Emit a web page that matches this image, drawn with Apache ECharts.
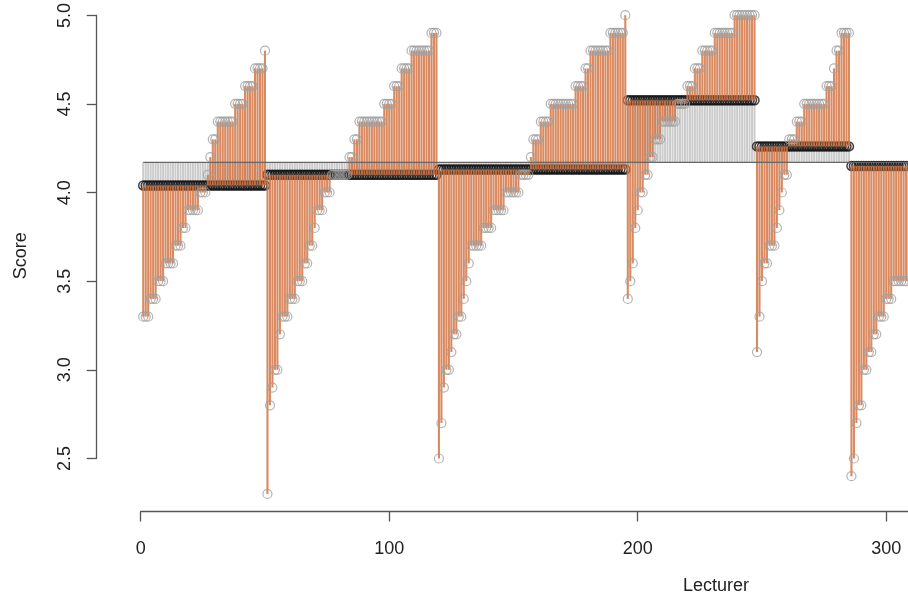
<!DOCTYPE html>
<html><head><meta charset="utf-8">
<script src="https://cdn.jsdelivr.net/npm/echarts@6/dist/echarts.min.js"></script>
<style>html,body{margin:0;padding:0;background:#fff}#c{width:908px;height:600px}</style>
</head><body><div id="c"></div>
<script>
// Scores of lecturers, sorted within each group
const group1 = [3.3,3.3,3.3,3.4,3.4,3.4,3.5,3.5,3.5,3.6,3.6,3.6,3.6,3.7,3.7,3.7,3.8,3.8,3.9,3.9,3.9,3.9,3.9,4.0,4.0,4.0,4.1,4.2,4.3,4.3,4.4,4.4,4.4,4.4,4.4,4.4,4.4,4.5,4.5,4.5,4.5,4.6,4.6,4.6,4.6,4.7,4.7,4.7,4.7,4.8];
const group2 = [2.3,2.8,2.9,3.0,3.0,3.2,3.3,3.3,3.3,3.4,3.4,3.4,3.5,3.5,3.5,3.6,3.6,3.7,3.7,3.8,3.9,3.9,3.9,4.0,4.0,4.0,4.1,4.1,4.1,4.1,4.1,4.1,4.1,4.2,4.2,4.3,4.3,4.4,4.4,4.4,4.4,4.4,4.4,4.4,4.4,4.4,4.4,4.5,4.5,4.5,4.5,4.6,4.6,4.6,4.7,4.7,4.7,4.7,4.8,4.8,4.8,4.8,4.8,4.8,4.8,4.8,4.9,4.9,4.9];
const group3 = [2.5,2.7,2.9,3.0,3.0,3.1,3.2,3.2,3.3,3.3,3.4,3.5,3.6,3.7,3.7,3.7,3.7,3.7,3.8,3.8,3.8,3.8,3.9,3.9,3.9,3.9,3.9,4.0,4.0,4.0,4.0,4.0,4.0,4.1,4.1,4.1,4.1,4.2,4.3,4.3,4.3,4.4,4.4,4.4,4.4,4.5,4.5,4.5,4.5,4.5,4.5,4.5,4.5,4.5,4.5,4.6,4.6,4.6,4.6,4.7,4.7,4.8,4.8,4.8,4.8,4.8,4.8,4.8,4.8,4.9,4.9,4.9,4.9,4.9,4.9,5.0];
const group4 = [3.4,3.5,3.6,3.8,3.9,4.0,4.0,4.1,4.1,4.2,4.2,4.3,4.3,4.3,4.4,4.4,4.4,4.4,4.4,4.4,4.5,4.5,4.5,4.5,4.6,4.6,4.6,4.7,4.7,4.7,4.8,4.8,4.8,4.8,4.8,4.9,4.9,4.9,4.9,4.9,4.9,4.9,4.9,5.0,5.0,5.0,5.0,5.0,5.0,5.0,5.0,5.0];
const group5 = [3.1,3.3,3.5,3.6,3.6,3.7,3.7,3.7,3.8,3.9,4.0,4.1,4.1,4.3,4.3,4.3,4.4,4.4,4.4,4.5,4.5,4.5,4.5,4.5,4.5,4.5,4.5,4.5,4.6,4.6,4.6,4.7,4.8,4.8,4.9,4.9,4.9,4.9];
const group6 = [2.4,2.5,2.7,2.8,2.8,3.0,3.0,3.1,3.1,3.2,3.2,3.3,3.3,3.3,3.4,3.4,3.4,3.5,3.5,3.5,3.5,3.5,3.5,3.5,3.5];
const groupMeans = [4.04, 4.10, 4.13, 4.52, 4.26, 4.15];
const overallMean = 4.17;
const xTickValues = [0, 100, 200, 300];
const yTickValues = [2.5, 3.0, 3.5, 4.0, 4.5, 5.0];

const groups = [group1, group2, group3, group4, group5, group6];
const scorePts = [], meanPts = [], devSegs = [], grpSegs = [];
let idx = 0;
groups.forEach((g, gi) => {
  g.forEach(s => {
    idx++;
    scorePts.push([idx, s]);
    meanPts.push([idx, groupMeans[gi]]);
    devSegs.push([idx, s, groupMeans[gi]]);
    grpSegs.push([idx, groupMeans[gi], overallMean]);
  });
});
const lastIdx = idx;

function segRenderer(color, width) {
  return function (params, api) {
    const a = api.coord([api.value(0), api.value(1)]);
    const b = api.coord([api.value(0), api.value(2)]);
    return { type: 'line', shape: { x1: a[0], y1: a[1], x2: b[0], y2: b[1] },
             style: { stroke: color, lineWidth: width } };
  };
}

const FONT = 'Liberation Sans, Arial, Helvetica, sans-serif';
const hiddenParts = { axisLine: { show: false }, axisTick: { show: false }, axisLabel: { show: false }, splitLine: { show: false } };
const chart = echarts.init(document.getElementById('c'), null, { renderer: 'canvas' });
chart.setOption({
  animation: false,
  backgroundColor: '#ffffff',
  grid: [
    { left: 96, top: 0, right: 0, height: 511.5 },
    { left: 140.7, top: 0, right: 0, height: 511.5 },
    { left: 96.7, top: 15.2, width: 100, height: 443.25 },
    { left: 524, top: 0, right: 0, height: 511.5 }
  ],
  xAxis: [
    Object.assign({ gridIndex: 0, type: 'value', min: -18, max: 308.76 }, hiddenParts),
    { gridIndex: 1, type: 'value', min: 0, max: 308.76,
      axisLine: { show: true, lineStyle: { color: '#555', width: 1.3 } },
      axisTick: { show: true, length: 10, customValues: xTickValues, lineStyle: { color: '#555', width: 1.3 } },
      axisLabel: { show: true, margin: 29, fontFamily: FONT, fontSize: 18, color: '#222',
                   customValues: xTickValues },
      splitLine: { show: false } },
    { gridIndex: 2, type: 'value', show: false },
    Object.assign({ gridIndex: 3, type: 'value', min: 0, max: 1,
      name: 'Lecturer', nameLocation: 'middle', nameGap: 78,
      nameTextStyle: { fontFamily: FONT, fontSize: 18, color: '#222' } }, hiddenParts)
  ],
  yAxis: [
    Object.assign({ gridIndex: 0, type: 'value', min: 2.201, max: 5.0857,
      name: 'Score', nameLocation: 'middle', nameGap: 66,
      nameTextStyle: { fontFamily: FONT, fontSize: 18, color: '#222' } }, hiddenParts),
    { gridIndex: 1, type: 'value', show: false },
    { gridIndex: 2, type: 'value', min: 2.5, max: 5.0, interval: 0.5,
      axisLine: { show: true, lineStyle: { color: '#555', width: 1.3 } },
      axisTick: { show: true, length: 10, lineStyle: { color: '#555', width: 1.3 } },
      axisLabel: { show: true, rotate: 90, margin: 23, fontFamily: FONT, fontSize: 18, color: '#222',
                   customValues: yTickValues, formatter: v => v.toFixed(1) },
      splitLine: { show: false } },
    { gridIndex: 3, type: 'value', show: false }
  ],
  series: [
    { type: 'custom', xAxisIndex: 0, yAxisIndex: 0, z: 1, data: grpSegs,
      encode: { x: 0, y: [1, 2] }, renderItem: segRenderer('#cbcbcb', 2.0) },
    { type: 'scatter', xAxisIndex: 0, yAxisIndex: 0, z: 2, data: meanPts,
      symbol: 'circle', symbolSize: 9,
      itemStyle: { color: 'rgba(0,0,0,0)', borderColor: '#111', borderWidth: 1.5 } },
    { type: 'custom', xAxisIndex: 0, yAxisIndex: 0, z: 3, data: devSegs,
      encode: { x: 0, y: [1, 2] }, renderItem: segRenderer('rgba(210,118,68,0.85)', 2.1) },
    { type: 'line', xAxisIndex: 0, yAxisIndex: 0, z: 4, data: [[1, overallMean], [lastIdx, overallMean]],
      symbol: 'none', lineStyle: { color: '#666', width: 1.1 } },
    { type: 'scatter', xAxisIndex: 0, yAxisIndex: 0, z: 5, data: scorePts,
      symbol: 'circle', symbolSize: 9,
      itemStyle: { color: 'rgba(0,0,0,0)', borderColor: '#a0a0a0', borderWidth: 1.2 } }
  ]
});
</script></body></html>
